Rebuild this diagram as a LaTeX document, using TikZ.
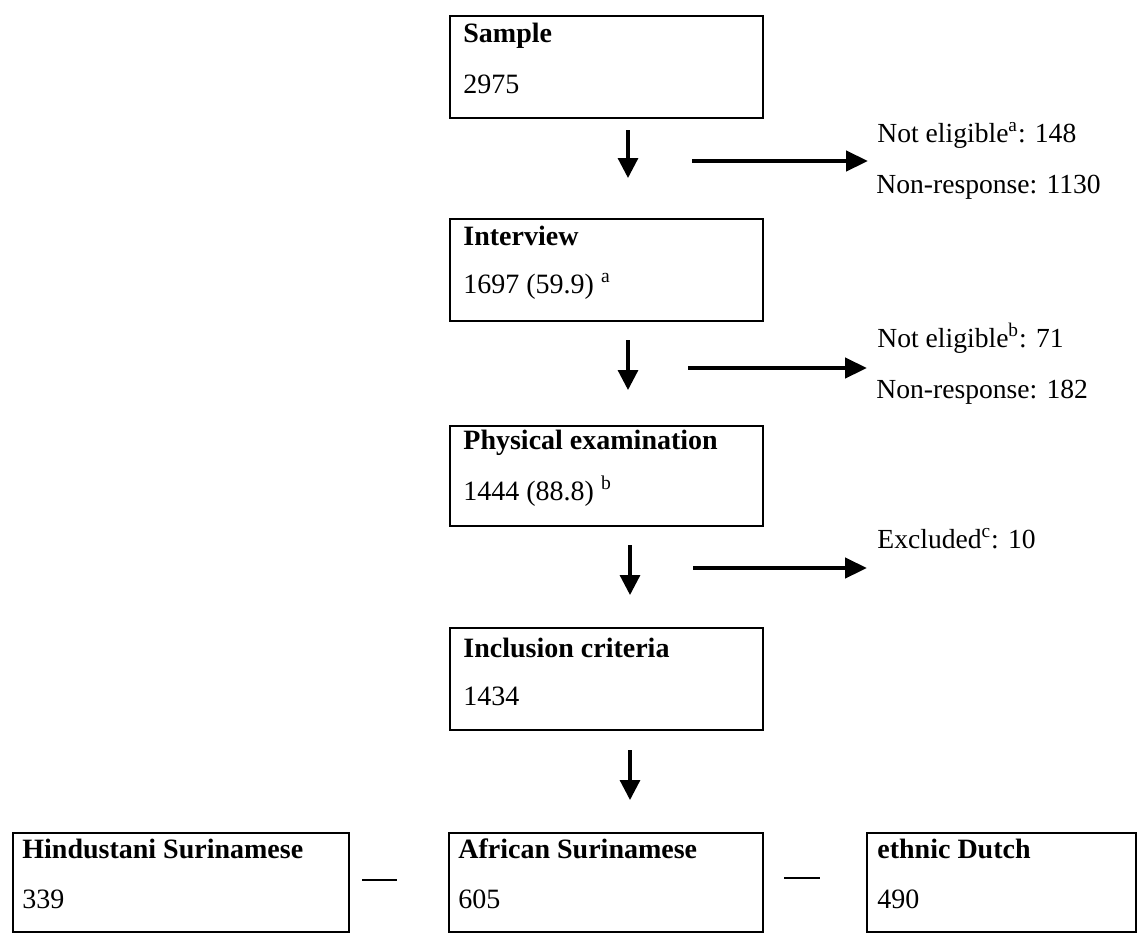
\documentclass[tikz,border=0pt]{standalone}
\usepackage{fontspec}
\setmainfont{Liberation Serif}
\usetikzlibrary{arrows.meta}
\begin{document}
\begin{tikzpicture}[x=0.5pt,y=-0.5pt,
  box/.style={draw, line width=1pt, inner sep=0pt, anchor=north west},
  ttl/.style={anchor=base west, inner sep=0pt, font=\fontsize{14}{16}\selectfont\bfseries},
  val/.style={anchor=base west, inner sep=0pt, font=\fontsize{14}{16}\selectfont},
  side/.style={anchor=base west, inner sep=0pt, font=\fontsize{13.8}{16}\selectfont},
  varrow/.style={line width=1.6pt, -{Triangle[length=10pt,width=10pt]}},
  harrow/.style={line width=2.2pt, -{Triangle[length=11pt,width=10pt]}},
  dashline/.style={line width=0.7pt}]
\useasboundingbox (0,0) rectangle (1138,932);
\fill[white] (0,0) rectangle (1138,932);

% central boxes
\node[box, minimum width=156.5pt, minimum height=51pt] (sample) at (449,15) {};
\node[ttl] (sampleT) at (463,42) {Sample};
\node[val] (sampleV) at (463,93) {2975};

\node[box, minimum width=156.5pt, minimum height=51pt] (interview) at (449,218) {};
\node[ttl] (interviewT) at (463,245) {Interview};
\node[val] (interviewV) at (463,293) {1697 (59.9) \textsuperscript{a}};

\node[box, minimum width=156.5pt, minimum height=50pt] (phys) at (449,425) {};
\node[ttl] (physT) at (463,449) {Physical examination};
\node[val] (physV) at (463,500) {1444 (88.8) \textsuperscript{b}};

\node[box, minimum width=156.5pt, minimum height=51pt] (incl) at (449,627) {};
\node[ttl] (inclT) at (463,657) {Inclusion criteria};
\node[val] (inclV) at (463,705) {1434};

% bottom boxes
\node[box, minimum width=168pt, minimum height=49.5pt] (hind) at (12,832) {};
\node[ttl] (hindT) at (22,858) {Hindustani Surinamese};
\node[val] (hindV) at (22,908) {339};

\node[box, minimum width=157pt, minimum height=49.5pt] (afr) at (448,832) {};
\node[ttl] (afrT) at (458,858) {African Surinamese};
\node[val] (afrV) at (458,908) {605};

\node[box, minimum width=134.5pt, minimum height=49.5pt] (dutch) at (866,832) {};
\node[ttl] (dutchT) at (877,858) {ethnic Dutch};
\node[val] (dutchV) at (877,908) {490};

% side texts
\node[side] (ne1) at (877,142) {Not eligible\textsuperscript{a}: 148};
\node[side] (nr1) at (876,193) {Non-response: 1130};
\node[side] (ne2) at (877,347) {Not eligible\textsuperscript{b}: 71};
\node[side] (nr2) at (876,398) {Non-response: 182};
\node[side] (exc) at (877,548) {Excluded\textsuperscript{c}: 10};

% vertical arrows
\coordinate (v1a) at (628,130); \coordinate (v1b) at (628,178);
\coordinate (v2a) at (628,340); \coordinate (v2b) at (628,390);
\coordinate (v3a) at (630,545); \coordinate (v3b) at (630,595);
\coordinate (v4a) at (630,750); \coordinate (v4b) at (630,800);
\draw[varrow] (v1a) -- (v1b);
\draw[varrow] (v2a) -- (v2b);
\draw[varrow] (v3a) -- (v3b);
\draw[varrow] (v4a) -- (v4b);

% horizontal arrows
\coordinate (h1a) at (692,161); \coordinate (h1b) at (868,161);
\coordinate (h2a) at (688,368); \coordinate (h2b) at (867,368);
\coordinate (h3a) at (693,568); \coordinate (h3b) at (867,568);
\draw[harrow] (h1a) -- (h1b);
\draw[harrow] (h2a) -- (h2b);
\draw[harrow] (h3a) -- (h3b);

% dashes between bottom boxes
\coordinate (d1a) at (362,880); \coordinate (d1b) at (397,880);
\coordinate (d2a) at (784,878); \coordinate (d2b) at (820,878);
\draw[dashline] (d1a) -- (d1b);
\draw[dashline] (d2a) -- (d2b);
\end{tikzpicture}
\end{document}
